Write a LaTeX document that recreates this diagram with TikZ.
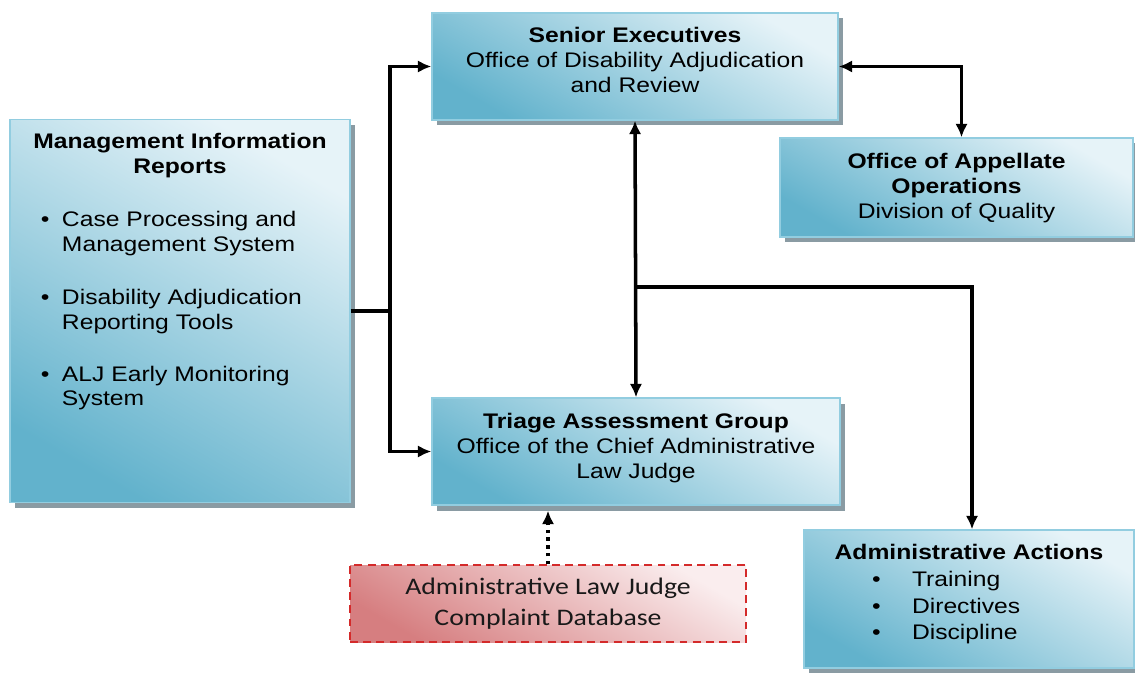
\documentclass[tikz,border=0pt]{standalone}
\usepackage{fontspec}
\setmainfont{Liberation Sans}
\newfontfamily\boxfont[FakeStretch=1.17]{Liberation Sans}
\newfontfamily\dbfont[FakeStretch=1.17]{Carlito}
\usetikzlibrary{arrows.meta,shadows}
% text block of a box: height, width, top gap, content
\newcommand{\BoxText}[4]{\parbox[c][#1][t]{#2}{\vspace*{#3}\centering#4\par}}
\newcommand{\MirItem}[1]{\hspace*{0.62cm}\makebox[0.42cm][l]{\textbullet}#1\par}
\newcommand{\MirLine}[1]{\hspace*{1.04cm}#1\par}
\newcommand{\ActItem}[1]{\hspace*{1.36cm}\makebox[0.8cm][l]{\textbullet}#1\par}
\definecolor{boxdark}{HTML}{62B2CC}
\definecolor{boxlight}{HTML}{E6F3F8}
\definecolor{boxedge}{HTML}{92CDE0}
\definecolor{boxshade}{HTML}{8A9BA3}
\definecolor{dbdark}{HTML}{D67E80}
\definecolor{dblight}{HTML}{FAEDEE}
\definecolor{dbedge}{HTML}{D42A2A}

\tikzset{
	infobox/.style={draw=boxedge, line width=0.8pt, inner sep=0pt,
		top color=boxlight, bottom color=boxdark, shading angle=-30,
		drop shadow={shadow xshift=0.09cm, shadow yshift=-0.11cm, fill=boxshade, opacity=1},
		font=\boxfont\fontsize{12}{14.2}\selectfont},
	dbbox/.style={draw=dbedge, line width=1pt, dash pattern=on 4.5pt off 3pt,
		top color=dblight, bottom color=dbdark, shading angle=-30,
		minimum width=7.92cm, minimum height=1.54cm, align=center,
		font=\dbfont\fontsize{13.5}{18}\selectfont, text=black!90},
	link/.style={line width=2pt}
}

\begin{document}
\begin{tikzpicture}[>={Latex[length=0.27cm,width=0.25cm]}]
	\useasboundingbox (0,0) rectangle (22.7,-13.46);

	\node[infobox] (mir) at (3.6,-6.22)
		{\BoxText{7.66cm}{6.8cm}{0.28cm}{\textbf{Management Information}\\\textbf{Reports}\par
			\raggedright\vspace*{0.56cm}
			\MirItem{Case Processing and}\MirLine{Management System}\vspace*{0.55cm}
			\MirItem{Disability Adjudication}\MirLine{Reporting Tools}\vspace*{0.54cm}
			\MirItem{ALJ Early Monitoring}\MirLine{System}}};

	\node[infobox] (senior) at (12.7,-1.33)
		{\BoxText{2.14cm}{8.12cm}{0.28cm}{\textbf{Senior Executives}\\Office of Disability Adjudication\\and Review}};
	\node[infobox] (appellate) at (19.13,-3.75)
		{\BoxText{1.98cm}{7.06cm}{0.3cm}{\textbf{Office of Appellate}\\\textbf{Operations}\\Division of Quality}};
	\node[infobox] (triage) at (12.72,-9.03)
		{\BoxText{2.14cm}{8.16cm}{0.3cm}{\textbf{Triage Assessment Group}\\Office of the Chief Administrative\\Law Judge}};

	\node[infobox] (actions) at (19.38,-11.98)
		{\BoxText{2.76cm}{6.6cm}{0.28cm}{\fontsize{12}{15.3}\selectfont
			\textbf{Administrative Actions}\par\raggedright
			\ActItem{Training}\ActItem{Directives}\ActItem{Discipline}}};

	\node[dbbox] (db) at (10.96,-12.07)
		{Administrative Law Judge\\Complaint Database};

	% connectors
	\coordinate (split) at (7.8,-6.22);
	\coordinate (branch) at (12.68,-5.74);
	\draw[link] (mir.east) -- (split);
	\draw[link,->] (split) |- (senior.west);
	\draw[link,->] (split) |- (triage.west);
	\draw[link,<->] (senior.south) -- (triage.north);
	\draw[link,->] (branch) -| ([xshift=0.06cm]actions.north);
	\draw[link,<->] (senior.east) -| ([xshift=0.1cm]appellate.north);
	\draw[link,->,dash pattern=on 2pt off 2.4pt] (db.north)
		-- ([yshift=-0.1cm]db.north |- triage.south);
\end{tikzpicture}
\end{document}
